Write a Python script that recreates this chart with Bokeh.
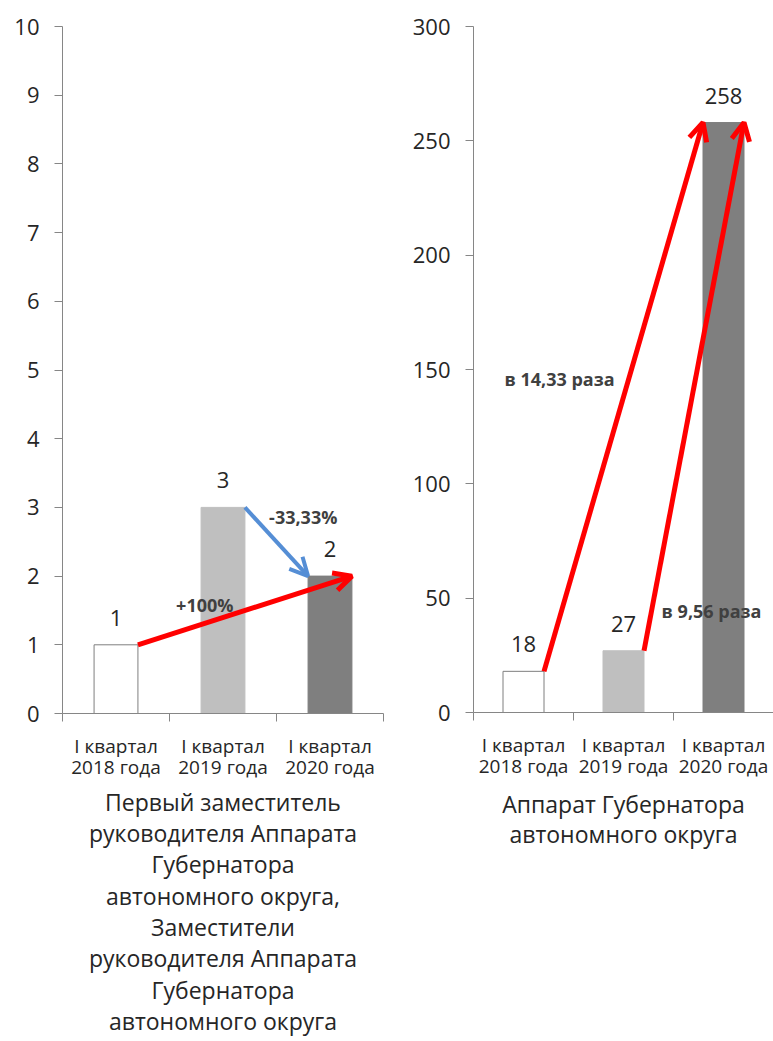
from bokeh.plotting import figure
from bokeh.models import FixedTicker, Arrow, OpenHead, Label, Range1d, LinearAxis
from bokeh.layouts import row
from bokeh.embed import file_html
from bokeh.resources import INLINE
from bokeh.core.properties import value

# ---------------- data ----------------
categories = ["I квартал\n2018 года", "I квартал\n2019 года", "I квартал\n2020 года"]
left_values = [1, 3, 2]
right_values = [18, 27, 258]
left_yticks = [0, 1, 2, 3, 4, 5, 6, 7, 8, 9, 10]
right_yticks = [0, 50, 100, 150, 200, 250, 300]
left_title = ["Первый заместитель", "руководителя Аппарата", "Губернатора",
              "автономного округа,", "Заместители", "руководителя Аппарата",
              "Губернатора", "автономного округа"]
right_title = ["Аппарат Губернатора", "автономного округа"]
left_notes = ["-33,33%", "+100%"]
right_notes = ["в 14,33 раза", "в 9,56 раза"]

# ---------------- style ----------------
FONT = "Open Sans"
TXT = "#262626"
AXIS = "#868686"
BAR_W = 0.41
bar_fill = ["#FFFFFF", "#BFBFBF", "#7F7F7F"]
bar_line = ["#7F7F7F", "#BFBFBF", "#7F7F7F"]


def make_chart(values, yticks, title_lines, fw, fh, bl, bt, br, bb, lh, tgap):
    n = len(values)
    xs = [i + 0.5 for i in range(n)]
    p = figure(frame_width=fw, frame_height=fh,
               x_range=Range1d(0, n), y_range=Range1d(yticks[0], yticks[-1]),
               output_backend="svg", toolbar_location=None,
               min_border_left=bl, min_border_top=bt, min_border_right=br,
               min_border_bottom=bb)
    p.outline_line_color = None
    p.xgrid.visible = False
    p.ygrid.visible = False
    p.background_fill_color = "white"
    p.border_fill_color = "white"

    p.vbar(x=xs, top=values, bottom=0, width=BAR_W,
           fill_color=bar_fill, line_color=bar_line, line_width=1)
    p.text(x=xs, y=values, text=[str(v) for v in values],
           text_align="center", text_baseline="middle", y_offset=-27,
           text_font=value(FONT), text_font_size="22px", text_color=TXT)

    ya = p.yaxis[0]
    ya.ticker = FixedTicker(ticks=yticks, minor_ticks=[])
    ya.axis_line_color = AXIS
    ya.major_tick_line_color = AXIS
    ya.major_tick_out = 8
    ya.major_tick_in = 0
    ya.minor_tick_out = 0
    ya.minor_tick_in = 0
    ya.major_label_text_font = FONT
    ya.major_label_text_font_size = "22px"
    ya.major_label_text_color = TXT
    ya.major_label_standoff = 15

    xa = p.xaxis[0]
    xa.ticker = FixedTicker(ticks=xs, minor_ticks=list(range(n + 1)))
    xa.major_label_overrides = {x: c for x, c in zip(xs, categories)}
    xa.axis_line_color = AXIS
    xa.major_tick_out = 0
    xa.major_tick_in = 0
    xa.minor_tick_line_color = AXIS
    xa.minor_tick_out = 8
    xa.minor_tick_in = 0
    xa.major_label_text_font = FONT
    xa.major_label_text_font_size = "19px"
    xa.major_label_text_color = TXT
    xa.major_label_text_line_height = 0.81
    xa.major_label_standoff = 11

    # caption: a bare axis whose single centred label holds the caption lines
    cap = LinearAxis(ticker=FixedTicker(ticks=[n / 2], minor_ticks=[]),
                     major_label_overrides={n / 2: "\n".join(title_lines)})
    cap.axis_line_color = None
    cap.major_tick_line_color = None
    cap.minor_tick_line_color = None
    cap.major_tick_out = 0
    cap.major_tick_in = 0
    cap.major_label_text_font = FONT
    cap.major_label_text_font_size = "23px"
    cap.major_label_text_color = TXT
    cap.major_label_text_line_height = lh
    cap.major_label_standoff = tgap
    p.add_layout(cap, "below")
    return p, xs


def arrow(p, x0, y0, x1, y1, color, w):
    p.add_layout(Arrow(x_start=x0, y_start=y0, x_end=x1, y_end=y1,
                       line_color=color, line_width=w,
                       end=OpenHead(size=18, line_color=color, line_width=w)))


def note(p, x, y, t):
    p.add_layout(Label(x=x, y=y, text=t, text_align="center",
                       text_baseline="middle", text_font=FONT,
                       text_font_size="18px", text_font_style="bold",
                       text_color="#404040"))


h = BAR_W / 2

p1, xs = make_chart(left_values, left_yticks, left_title,
                    321, 687, 62, 26, 25, 0, 0.98, 3)
arrow(p1, xs[0] + h, left_values[0], xs[2] + h, left_values[2], "#FF0000", 5)
arrow(p1, xs[1] + h, left_values[1], xs[2] - h, left_values[2], "#558ED5", 4)
note(p1, 2.25, 2.86, left_notes[0])
note(p1, 1.33, 1.58, left_notes[1])

p2, xs2 = make_chart(right_values, right_yticks, right_title,
                     300, 686, 65, 26, 0, 0, 0.96, 6)
arrow(p2, xs2[0] + h, right_values[0], xs2[2] - h, right_values[2], "#FF0000", 5)
arrow(p2, xs2[1] + h, right_values[1], xs2[2] + h, right_values[2], "#FF0000", 5)
note(p2, 0.86, 146, right_notes[0])
note(p2, 2.38, 44.5, right_notes[1])

layout = row(p1, p2)
open("out.html", "w").write(file_html(layout, INLINE))
